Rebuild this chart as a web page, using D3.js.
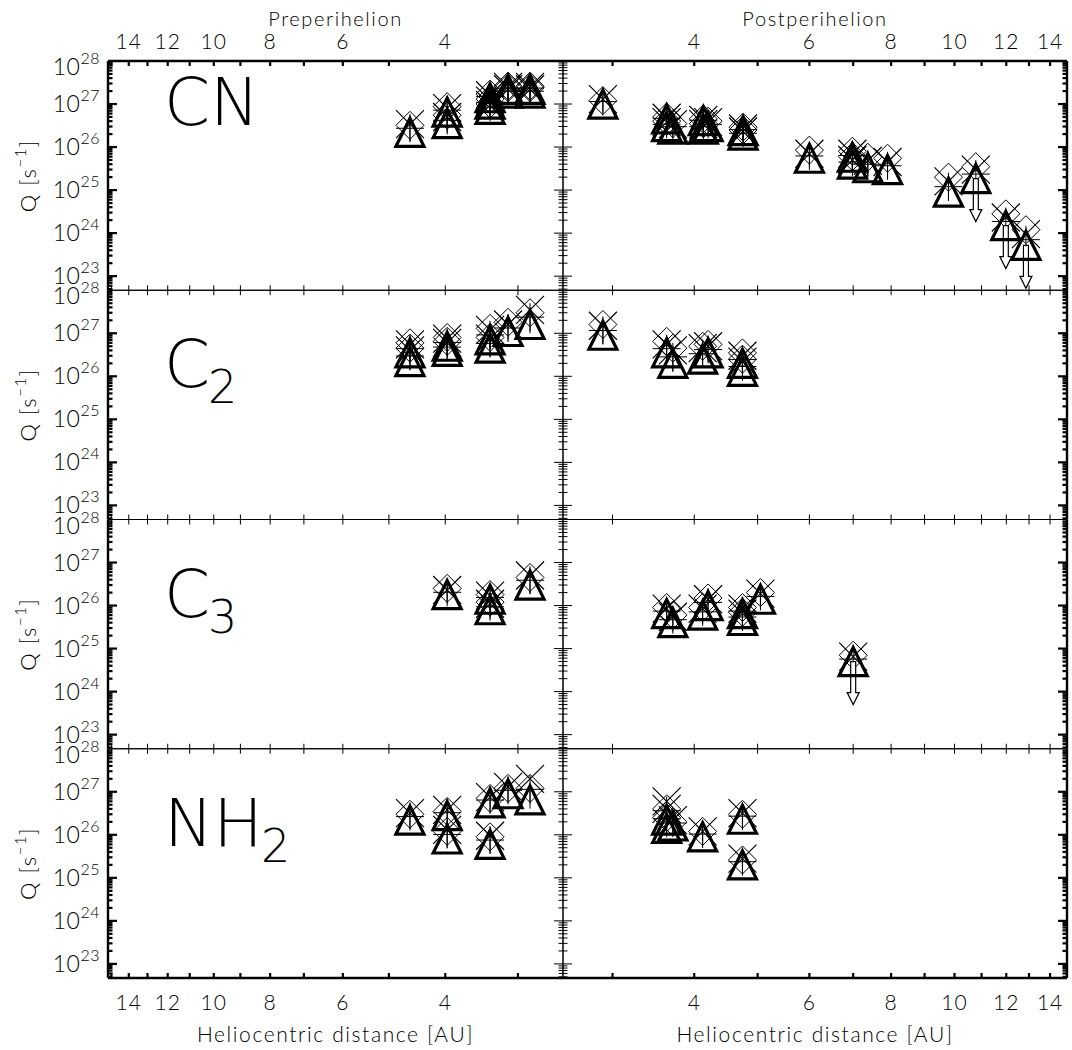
<!DOCTYPE html>
<html><head><meta charset="utf-8">
<script src="https://cdn.jsdelivr.net/npm/d3@7"></script>
<style>
body{margin:0;background:#fff}
svg{display:block}
text{font-family:"Lato","DejaVu Sans",sans-serif;fill:#000}
text.big{font-family:"DejaVu Sans",sans-serif}
</style>
</head><body>
<svg id="chart" width="1072" height="1050"></svg>
<script>
// ---------- axis definitions ----------
const species = ["CN", "C2", "C3", "NH2"];
const xTickValues = [3,4,5,6,7,8,9,10,11,12,13,14,15];
const xTickLabels = [4,6,8,10,12,14];
const yTickExponents = [23,24,25,26,27,28];
const periodTitles = ["Preperihelion", "Postperihelion"];

// ---------- data (r [AU], Q [s^-1]) ----------
// CN preperihelion
const cnPreR   = [4.6, 3.97, 3.97, 3.35, 3.35, 3.35, 3.12, 3.12, 2.86, 2.86];
const cnPreTri = [2.2e26, 3.5e26, 6.5e26, 7.5e26, 1.0e27, 1.4e27, 1.8e27, 2.2e27, 1.8e27, 2.2e27];
const cnPreDia = [3.2e26, 5.5e26, 8.7e26, 1.0e27, 1.3e27, 1.7e27, 2.4e27, 2.6e27, 2.4e27, 2.6e27];
const cnPreX   = [3.4e26, 5.0e26, 8.0e26, 9.5e26, 1.2e27, 1.6e27, 2.2e27, 2.5e27, 2.2e27, 2.5e27];
const cnPreLim = [0,0,0,0,0,0,0,0,0,0];
// CN postperihelion
const cnPostR   = [2.9, 3.63, 3.63, 3.71, 4.13, 4.13, 4.2, 4.75, 4.75, 6.0, 6.98, 6.98, 7.37, 7.9, 9.79, 10.78, 11.98, 12.86];
const cnPostTri = [1.0e27, 4.5e26, 3.0e26, 2.6e26, 4.1e26, 2.6e26, 3.0e26, 2.4e26, 1.9e26, 5.5e25, 5.8e25, 4.0e25, 3.3e25, 3.0e25, 9.0e24, 1.85e25, 1.5e24, 5.2e23];
const cnPostDia = [1.2e27, 5.0e26, 4.0e26, 3.5e26, 4.5e26, 3.5e26, 4.0e26, 2.9e26, 2.5e26, 8.5e25, 8.0e25, 6.0e25, 5.8e25, 5.5e25, 2.0e25, 3.5e25, 2.8e24, 1.2e24];
const cnPostX   = [1.3e27, 4.8e26, 3.8e26, 3.4e26, 4.3e26, 3.4e26, 3.8e26, 2.7e26, 2.3e26, 7.0e25, 7.0e25, 5.0e25, 4.8e25, 4.5e25, 1.6e25, 3.0e25, 2.3e24, 9.5e23];
const cnPostLim = [0,0,0,0,0,0,0,0,0,0,0,0,0,0,0,1,1,1];
// C2 preperihelion
const c2PreR   = [4.6, 4.6, 3.97, 3.97, 3.35, 3.35, 3.12, 2.86];
const c2PreTri = [2.2e26, 3.5e26, 3.8e26, 5.0e26, 4.5e26, 7.0e26, 1.1e27, 1.6e27];
const c2PreDia = [4.5e26, 6.0e26, 6.5e26, 8.0e26, 8.0e26, 1.3e27, 1.8e27, 3.0e27];
const c2PreX   = [4.0e26, 5.5e26, 6.0e26, 7.5e26, 7.5e26, 1.2e27, 1.6e27, 3.5e27];
const c2PreLim = [0,0,0,0,0,0,0,0];
// C2 postperihelion
const c2PostR   = [2.9, 3.63, 3.71, 4.12, 4.2, 4.74, 4.74];
const c2PostTri = [9.0e26, 3.5e26, 2.0e26, 2.5e26, 3.5e26, 1.3e26, 2.0e26];
const c2PostDia = [1.6e27, 6.5e26, 4.5e26, 5.0e26, 5.5e26, 2.5e26, 3.5e26];
const c2PostX   = [1.5e27, 5.5e26, 4.0e26, 4.5e26, 5.0e26, 2.2e26, 3.0e26];
const c2PostLim = [0,0,0,0,0,0,0];
// C3 preperihelion
const c3PreR   = [3.97, 3.35, 3.35, 2.86];
const c3PreTri = [1.8e26, 8.0e25, 1.4e26, 3.0e26];
const c3PreDia = [2.5e26, 1.2e26, 1.8e26, 4.5e26];
const c3PreX   = [2.3e26, 1.1e26, 1.7e26, 5.0e26];
const c3PreLim = [0,0,0,0];
// C3 postperihelion
const c3PostR   = [3.63, 3.71, 4.12, 4.2, 4.74, 4.74, 5.05, 7.0];
const c3PostTri = [6.5e25, 4.0e25, 6.0e25, 1.0e26, 4.5e25, 6.5e25, 1.4e26, 5.0e24];
const c3PostDia = [9.0e25, 6.0e25, 9.0e25, 1.5e26, 7.0e25, 9.0e25, 2.0e26, 7.0e24];
const c3PostX   = [8.5e25, 5.5e25, 8.5e25, 1.4e26, 6.5e25, 8.5e25, 1.9e26, 6.5e24];
const c3PostLim = [0,0,0,0,0,0,0,1];
// NH2 preperihelion
const nh2PreR   = [4.6, 3.97, 3.97, 3.35, 3.35, 3.12, 2.86];
const nh2PreTri = [2.2e26, 2.8e26, 8.0e25, 5.5e26, 6.0e25, 9.0e26, 6.5e26];
const nh2PreDia = [3.0e26, 3.5e26, 1.2e26, 7.0e26, 9.0e25, 1.2e27, 1.2e27];
const nh2PreX   = [3.2e26, 3.8e26, 1.3e26, 7.5e26, 9.5e25, 1.3e27, 2.0e27];
const nh2PreLim = [0,0,0,0,0,0,0];
// NH2 postperihelion
const nh2PostR   = [3.63, 3.63, 3.71, 4.12, 4.74, 4.74];
const nh2PostTri = [1.4e26, 2.2e26, 1.6e26, 9.0e25, 2.3e26, 2.0e25];
const nh2PostDia = [2.5e26, 4.0e26, 2.0e26, 1.2e26, 3.0e26, 2.6e25];
const nh2PostX   = [4.0e26, 6.0e26, 2.2e26, 1.2e26, 3.2e26, 2.8e25];
const nh2PostLim = [0,0,0,0,0,0];

// ---------- assemble panels ----------
const panelData = [
  [{r:cnPreR, tri:cnPreTri, dia:cnPreDia, crs:cnPreX, lim:cnPreLim},
   {r:cnPostR, tri:cnPostTri, dia:cnPostDia, crs:cnPostX, lim:cnPostLim}],
  [{r:c2PreR, tri:c2PreTri, dia:c2PreDia, crs:c2PreX, lim:c2PreLim},
   {r:c2PostR, tri:c2PostTri, dia:c2PostDia, crs:c2PostX, lim:c2PostLim}],
  [{r:c3PreR, tri:c3PreTri, dia:c3PreDia, crs:c3PreX, lim:c3PreLim},
   {r:c3PostR, tri:c3PostTri, dia:c3PostDia, crs:c3PostX, lim:c3PostLim}],
  [{r:nh2PreR, tri:nh2PreTri, dia:nh2PreDia, crs:nh2PreX, lim:nh2PreLim},
   {r:nh2PostR, tri:nh2PostTri, dia:nh2PostDia, crs:nh2PostX, lim:nh2PostLim}]
];

// ---------- layout ----------
const svg = d3.select("#chart");
const X0 = 108, XM = 563, X1 = 1067;
const TOP = 61, ROWH = 229.25;
const xScales = [
  d3.scaleLog().domain([15.2, 2.51]).range([X0, XM]),
  d3.scaleLog().domain([2.52, 14.86]).range([XM, X1])
];
const yDomain = [4.7e22, 1e28];
const yScale = i => d3.scaleLog().domain(yDomain).range([TOP + (i+1)*ROWH, TOP + i*ROWH]);

const yMinor = [];
for (let e = 22; e <= 27; e++) for (let m = 1; m <= 9; m++) {
  const v = m * Math.pow(10, e);
  if (v >= yDomain[0] && v <= yDomain[1]) yMinor.push(v);
}

const S = 14; // symbol half size
const triPath = `M${-S},${S}L0,${-S}L${S},${S}Z`;
const diaPath = `M${-S},0L0,${-S}L${S},0L0,${S}Z`;
const crsPath = `M${-S},${-S}L${S},${S}M${-S},${S}L${S},${-S}`;
const plsPath = `M${-S},0L${S},0M0,${-S}L0,${S}`;

species.forEach((sp, i) => {
  const y = yScale(i);
  const yT = TOP + i*ROWH, yB = TOP + (i+1)*ROWH;
  [0,1].forEach(side => {
    const x = xScales[side];
    const g = svg.append("g");
    const xa = side === 0 ? X0 : XM, xb = side === 0 ? XM : X1;
    const d = panelData[i][side];
    const pts = d.r.map((r, k) => ({r, tri:d.tri[k], dia:d.dia[k], crs:d.crs[k], lim:d.lim[k]}));

    const sg = g.append("g");
    sg.selectAll(".dia").data(pts).join("path")
      .attr("d", diaPath).attr("transform", p => `translate(${x(p.r)},${y(p.dia)})`)
      .attr("fill","none").attr("stroke","#000").attr("stroke-width",1);
    sg.selectAll(".crs").data(pts).join("path")
      .attr("d", crsPath).attr("transform", p => `translate(${x(p.r)},${y(p.crs)})`)
      .attr("fill","none").attr("stroke","#000").attr("stroke-width",1.2);
    sg.selectAll(".pls").data(pts).join("path")
      .attr("d", plsPath).attr("transform", p => `translate(${x(p.r)},${y(Math.sqrt(p.tri*p.crs))})`)
      .attr("fill","none").attr("stroke","#000").attr("stroke-width",1);
    sg.selectAll(".err").data(pts.filter(p => !p.lim)).join("line")
      .attr("x1", p => x(p.r)).attr("x2", p => x(p.r))
      .attr("y1", p => y(p.tri*2.2)).attr("y2", p => y(p.tri/1.6))
      .attr("stroke","#000").attr("stroke-width",1);
    const arr = sg.selectAll(".arr").data(pts.filter(p => p.lim)).join("g")
      .attr("transform", p => `translate(${x(p.r)},${y(p.tri)})`);
    arr.append("path")
      .attr("d", p => {
        const L = y(p.tri / 10) - y(p.tri);
        return `M-2.5,0L-2.5,${L-12}L-6,${L-12}L0,${L}L6,${L-12}L2.5,${L-12}L2.5,0Z`;
      })
      .attr("fill","#fff").attr("stroke","#000").attr("stroke-width",1.2);
    sg.selectAll(".tri").data(pts).join("path")
      .attr("d", triPath).attr("transform", p => `translate(${x(p.r)},${y(p.tri)})`)
      .attr("fill","none").attr("stroke","#000").attr("stroke-width",3.2).attr("stroke-linejoin","miter");

    // ----- axes/frame -----
    const outerL = side === 0, outerR = side === 1, outerT = i === 0, outerB = i === 3;
    const thick = 2.4, thin = 1;
    xTickValues.forEach(v => {
      const px = x(v);
      if (px <= xa + 1 || px >= xb - 1) return;
      g.append("line").attr("x1",px).attr("x2",px).attr("y1",yT).attr("y2",yT+5)
        .attr("stroke","#000").attr("stroke-width", outerT ? 2.2 : 1);
      g.append("line").attr("x1",px).attr("x2",px).attr("y1",yB).attr("y2",yB-5)
        .attr("stroke","#000").attr("stroke-width", outerB ? 2.2 : 1);
    });
    yMinor.forEach(v => {
      const py = y(v);
      const major = Math.abs(Math.log10(v) - Math.round(Math.log10(v))) < 1e-9;
      const len = major ? 9 : 4.5;
      g.append("line").attr("x1",xa).attr("x2",xa+len).attr("y1",py).attr("y2",py)
        .attr("stroke","#000").attr("stroke-width", outerL ? 2.2 : 1);
      g.append("line").attr("x1",xb).attr("x2",xb-len).attr("y1",py).attr("y2",py)
        .attr("stroke","#000").attr("stroke-width", outerR ? 2.2 : 1);
    });
    g.append("line").attr("x1",xa).attr("x2",xb).attr("y1",yT).attr("y2",yT)
      .attr("stroke","#000").attr("stroke-width", outerT ? thick : thin);
    g.append("line").attr("x1",xa).attr("x2",xb).attr("y1",yB).attr("y2",yB)
      .attr("stroke","#000").attr("stroke-width", outerB ? thick : thin);
    g.append("line").attr("x1",xa).attr("x2",xa).attr("y1",yT).attr("y2",yB)
      .attr("stroke","#000").attr("stroke-width", outerL ? thick : thin);
    g.append("line").attr("x1",xb).attr("x2",xb).attr("y1",yT).attr("y2",yB)
      .attr("stroke","#000").attr("stroke-width", outerR ? thick : thin);

    if (outerT || outerB) {
      xTickLabels.forEach(v => {
        g.append("text").attr("x", x(v)).attr("y", outerT ? 49 : 1010)
          .attr("text-anchor","middle").attr("font-size",21).attr("font-weight",300)
          .attr("letter-spacing",1).text(v);
      });
    }
    if (outerT) {
      g.append("text").attr("x",(xa+xb)/2).attr("y",26).attr("text-anchor","middle")
        .attr("font-size",20).attr("font-weight",300).attr("letter-spacing",1.6).text(periodTitles[side]);
    }
    if (outerB) {
      g.append("text").attr("x",(xa+xb)/2).attr("y",1042).attr("text-anchor","middle")
        .attr("font-size",21).attr("font-weight",300).attr("letter-spacing",1.6).text("Heliocentric distance [AU]");
    }
  });

  // y tick labels
  yTickExponents.forEach(e => {
    const py = y(Math.pow(10, e)) + (e === 28 ? 6 : 0);
    const t = svg.append("text").attr("x", 100).attr("y", py + 8).attr("text-anchor","end")
      .attr("font-size",23).attr("font-weight",300).attr("letter-spacing",0.5);
    t.append("tspan").text("10");
    t.append("tspan").attr("font-size",16).attr("dy",-11).text(e);
  });
  const yc = (yT + yB)/2;
  const tt = svg.append("text").attr("transform",`translate(36,${yc}) rotate(-90)`)
    .attr("text-anchor","middle").attr("font-size",22).attr("font-weight",300).attr("letter-spacing",1.5);
  tt.append("tspan").text("Q [s");
  tt.append("tspan").attr("font-size",15).attr("dy",-10).text("−1");
  tt.append("tspan").attr("dy",10).text("]");

  // species label
  const base = i === 0 ? yT + 64 : yT + 97;
  const lab = svg.append("text").attr("class","big").attr("x",164).attr("y", base)
    .attr("font-size",66).attr("font-weight",200).attr("letter-spacing",0);
  const m = sp.match(/^([A-Z]+)(\d?)$/);
  lab.append("tspan").text(m[1]);
  if (m[2]) lab.append("tspan").attr("font-size",46).attr("dy",16).attr("dx",-2).text(m[2]);
});
</script>
</body></html>
